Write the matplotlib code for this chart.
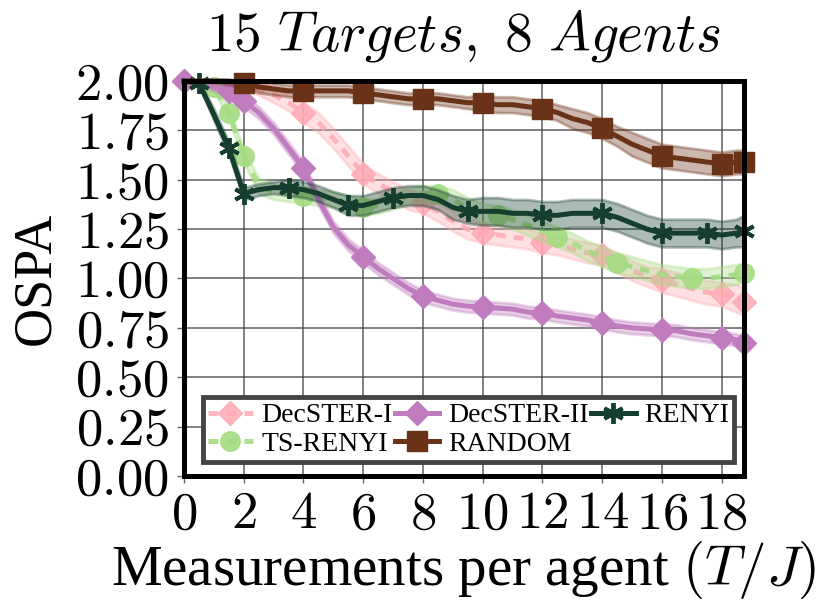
import numpy as np
import matplotlib
matplotlib.use("Agg")
import matplotlib.pyplot as plt

plt.rcParams['font.family'] = ['Liberation Serif', 'DejaVu Serif']
plt.rcParams['mathtext.fontset'] = 'cm'

# measurements per agent (T/J)
x = [0, 0.5, 1, 1.5, 2, 2.5, 3, 3.5, 4, 4.5, 5, 5.5, 6, 6.5, 7, 7.5, 8, 8.5, 9, 9.5,
     10, 10.5, 11, 11.5, 12, 12.5, 13, 13.5, 14, 14.5, 15, 15.5, 16, 16.5, 17, 17.5,
     18, 18.5, 18.75]

# mean OSPA per method
decster1 = [2.00, 2.00, 2.00, 1.99, 1.98, 1.96, 1.93, 1.89, 1.84, 1.79, 1.71, 1.62, 1.53,
            1.48, 1.44, 1.40, 1.38, 1.34, 1.29, 1.25, 1.23, 1.22, 1.21, 1.20, 1.18, 1.17,
            1.15, 1.13, 1.12, 1.08, 1.04, 1.01, 0.99, 0.97, 0.95, 0.93, 0.92, 0.90, 0.88]
decster2 = [2.00, 1.99, 1.97, 1.95, 1.90, 1.84, 1.76, 1.66, 1.56, 1.40, 1.26, 1.17, 1.11,
            1.05, 1.00, 0.95, 0.91, 0.89, 0.87, 0.86, 0.855, 0.85, 0.845, 0.83, 0.825, 0.81,
            0.80, 0.79, 0.775, 0.76, 0.75, 0.745, 0.74, 0.735, 0.72, 0.71, 0.70, 0.69, 0.675]
renyi = [2.00, 1.99, 1.83, 1.66, 1.43, 1.45, 1.46, 1.46, 1.45, 1.43, 1.40, 1.37, 1.37,
         1.39, 1.41, 1.42, 1.42, 1.40, 1.36, 1.34, 1.34, 1.34, 1.33, 1.33, 1.32, 1.32,
         1.33, 1.33, 1.33, 1.31, 1.28, 1.25, 1.23, 1.23, 1.23, 1.23, 1.22, 1.23, 1.24]
ts_renyi = [2.00, 2.00, 1.97, 1.84, 1.62, 1.47, 1.44, 1.43, 1.42, 1.41, 1.40, 1.38, 1.36,
            1.37, 1.39, 1.42, 1.43, 1.43, 1.40, 1.36, 1.33, 1.32, 1.30, 1.27, 1.24, 1.21,
            1.18, 1.14, 1.11, 1.08, 1.06, 1.04, 1.02, 1.01, 1.00, 1.00, 1.01, 1.02, 1.03]
random_ = [2.00, 2.00, 2.00, 2.00, 1.99, 1.97, 1.96, 1.95, 1.95, 1.95, 1.95, 1.95, 1.94,
           1.93, 1.92, 1.91, 1.91, 1.91, 1.90, 1.89, 1.89, 1.88, 1.88, 1.87, 1.86, 1.84,
           1.81, 1.79, 1.76, 1.72, 1.68, 1.65, 1.62, 1.61, 1.60, 1.59, 1.58, 1.59, 1.59]

# half-width of the shaded bands
decster1_hw = [0.00, 0.01, 0.02, 0.02, 0.03, 0.03, 0.04, 0.04, 0.05, 0.05, 0.05, 0.05, 0.05,
               0.05, 0.05, 0.05, 0.05, 0.05, 0.05, 0.05, 0.05, 0.05, 0.05, 0.05, 0.05, 0.05,
               0.05, 0.05, 0.05, 0.05, 0.05, 0.05, 0.06, 0.06, 0.06, 0.06, 0.06, 0.07, 0.07]
decster2_hw = [0.00, 0.01, 0.02, 0.02, 0.03, 0.03, 0.03, 0.03, 0.03, 0.03, 0.03, 0.03, 0.03,
               0.03, 0.03, 0.03, 0.03, 0.03, 0.03, 0.03, 0.03, 0.03, 0.03, 0.03, 0.03, 0.03,
               0.03, 0.03, 0.03, 0.03, 0.03, 0.03, 0.03, 0.03, 0.03, 0.03, 0.03, 0.03, 0.03]
renyi_hw = [0.00, 0.01, 0.03, 0.03, 0.03, 0.03, 0.03, 0.04, 0.04, 0.04, 0.04, 0.05, 0.05,
            0.05, 0.05, 0.05, 0.05, 0.05, 0.06, 0.06, 0.07, 0.07, 0.07, 0.07, 0.07, 0.07,
            0.07, 0.07, 0.07, 0.07, 0.07, 0.07, 0.07, 0.07, 0.07, 0.07, 0.07, 0.07, 0.08]
ts_renyi_hw = [0.00, 0.01, 0.02, 0.03, 0.03, 0.04, 0.04, 0.04, 0.04, 0.04, 0.04, 0.04, 0.04,
               0.04, 0.04, 0.04, 0.04, 0.04, 0.05, 0.05, 0.05, 0.05, 0.05, 0.05, 0.05, 0.05,
               0.05, 0.05, 0.05, 0.05, 0.05, 0.05, 0.05, 0.05, 0.05, 0.05, 0.05, 0.05, 0.05]
random_hw = [0.00, 0.00, 0.01, 0.02, 0.02, 0.03, 0.03, 0.03, 0.03, 0.03, 0.03, 0.03, 0.03,
             0.03, 0.03, 0.03, 0.03, 0.03, 0.03, 0.03, 0.04, 0.04, 0.04, 0.04, 0.04, 0.04,
             0.05, 0.05, 0.05, 0.05, 0.06, 0.06, 0.06, 0.06, 0.06, 0.06, 0.06, 0.06, 0.06]

# where the markers sit (x values)
decster1_mk = [0, 2, 4, 6, 8, 10, 12, 14, 16, 18, 18.75]
decster2_mk = [0, 1.5, 2, 4, 6, 8, 10, 12, 14, 16, 18, 18.75]
renyi_mk = [0.5, 1.5, 2, 3.5, 5.5, 7, 9.5, 12, 14, 16, 17.5, 18.75]
ts_renyi_mk = [1, 1.5, 2, 4, 6, 8.5, 10.5, 12.5, 14.5, 17, 18.75]
random_mk = [2, 4, 6, 8, 10, 12, 14, 16, 18, 18.75]

xticks = [0, 2, 4, 6, 8, 10, 12, 14, 16, 18]
yticks = [0.00, 0.25, 0.50, 0.75, 1.00, 1.25, 1.50, 1.75, 2.00]

STAR = (6, 2, 0)
series = [
    # label, mean, half width, markers, color, marker, size, linestyle, alpha
    ("DecSTER-I", decster1, decster1_hw, decster1_mk, '#FFAAB4', 'D', 12, (0, (2.0, 1.6)), 0.85),
    ("TS-RENYI", ts_renyi, ts_renyi_hw, ts_renyi_mk, '#A5DC82', 'o', 14, (0, (2.0, 1.6)), 0.9),
    ("DecSTER-II", decster2, decster2_hw, decster2_mk, '#C07CBE', 'D', 12, '-', 1.0),
    ("RENYI", renyi, renyi_hw, renyi_mk, '#163E2F', STAR, 15, '-', 1.0),
    ("RANDOM", random_, random_hw, random_mk, '#6A3217', 's', 14, '-', 1.0),
]

fig = plt.figure(figsize=(8.3, 6.16), dpi=100)
ax = fig.add_axes([0.2217, 0.2273, 0.6747, 0.6412])

xs = np.array(x)
handles = {}
for i, (label, mean, hw, mk, color, marker, ms, ls, alpha) in enumerate(series):
    mean = np.array(mean)
    hw = np.array(hw)
    idx = [int(np.argmin(np.abs(xs - m))) for m in mk]
    ax.fill_between(xs, mean - hw, mean + hw, color=color, alpha=0.35,
                    linewidth=2, edgecolor=color, zorder=2 + i)
    line, = ax.plot(xs, mean, color=color, linestyle=ls, linewidth=3.6, alpha=alpha,
                    marker=marker, markersize=ms, markevery=idx,
                    markeredgewidth=2.8 if marker == STAR else 1,
                    clip_on=False, zorder=3 + i, label=label)
    handles[label] = line

ax.set_xlim(0, 18.75)
ax.set_ylim(0, 2.0)
ax.set_xticks(xticks)
ax.set_xticklabels([f'${t}$' for t in xticks])
ax.set_yticks(yticks)
ax.set_yticklabels([f'${t:.2f}$' for t in yticks])
ax.tick_params(labelsize=38, length=5, width=1, color='#666666', pad=6)
ax.grid(True, color='#444444', linewidth=1.1, alpha=0.85)
ax.set_axisbelow(True)
for sp in ax.spines.values():
    sp.set_linewidth(3.6)
    sp.set_color('black')
    sp.set_zorder(20)

ax.set_xlabel(r'Measurements per agent $(T/J)$', fontsize=41, labelpad=0)
ax.set_ylabel('OSPA', fontsize=39, labelpad=10)
ax.set_title(r'$15\ Targets,\ 8\ Agents$', fontsize=40, pad=22)

order = ["DecSTER-I", "TS-RENYI", "DecSTER-II", "RANDOM", "RENYI"]
leg = ax.legend([handles[k] for k in order], order, ncol=3, loc='lower center',
                bbox_to_anchor=(0.508, 0.0), fontsize=20, handlelength=1.6,
                handletextpad=0.3, columnspacing=0.1, borderpad=0.2,
                labelspacing=0.1, fancybox=False, framealpha=1.0)
leg.get_frame().set_edgecolor('#444444')
leg.get_frame().set_linewidth(3.5)
leg.set_zorder(25)

plt.savefig('out.png', dpi=100)
